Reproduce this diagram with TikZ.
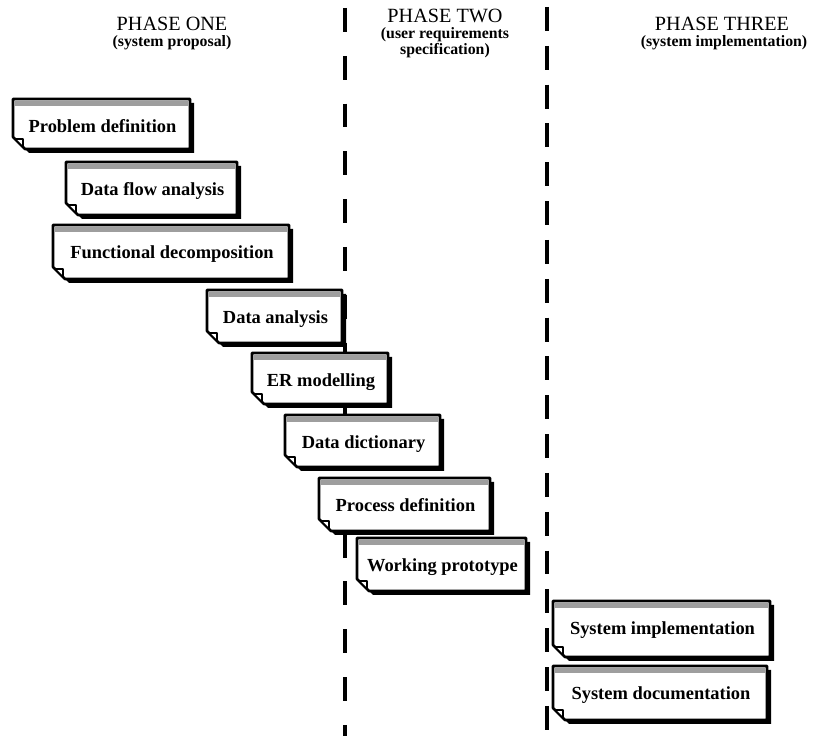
\documentclass[tikz,border=0pt]{standalone}
\usepackage{fontspec}
\setmainfont{Liberation Serif}

\tikzset{
  frame/.style={draw=black, fill=white, line width=1.5pt, line join=round},
  stage/.style={font=\fontsize{10.5}{12}\selectfont\bfseries, inner sep=0pt, anchor=base},
  phase/.style={font=\fontsize{11.5}{13}\selectfont, inner sep=0pt, anchor=base},
  phasesub/.style={font=\fontsize{9}{10}\selectfont\bfseries, inner sep=0pt, anchor=base},
  divider/.style={line width=2.8pt, dash pattern=on 13.6pt off 13.6pt},
}

\begin{document}
\begin{tikzpicture}[x=0.02cm, y=-0.02cm]
      \useasboundingbox (0,0) rectangle (826,736);

      % phase dividers
      \coordinate (onetop) at (345,8);
      \coordinate (onebot) at (345,736);
      \coordinate (twotop) at (547,7);
      \coordinate (twobot) at (547,736);
      \draw[divider] (onetop) -- (onebot);
      \draw[divider, dash pattern=on 13.6pt off 8.5pt] (twotop) -- (twobot);

      % headings
      \node[phase] (phone) at (172,31) {PHASE ONE};
      \node[phasesub] (phonesub) at (172,47) {(system proposal)};
      \node[phase] (phtwo) at (445,23) {PHASE TWO};
      \node[phasesub] (phtwosub) at (445,39) {(user requirements};
      \node[phasesub] (phtwospec) at (445,55) {specification)};
      \node[phase] (phthree) at (722,31) {PHASE THREE};
      \node[phasesub] (phthreesub) at (724,47) {(system implementation)};

      % task boxes
      \foreach \nm/\xa/\ya/\xb/\yb/\txt in {
        probdef/13/99/190/149/Problem definition,
        dataflow/66/162/237/215/Data flow analysis,
        funcdecomp/53/225/289/279/Functional decomposition,
        dataanal/207/290/342/343/Data analysis,
        ermodel/252/353/388/404/ER modelling,
        datadict/285/415/440/467/Data dictionary,
        procdef/319/478/490/531/Process definition,
        workproto/357/538/526/591/Working prototype,
        sysimpl/553/601/770/657/System implementation,
        sysdoc/553/666/767/720/System documentation%
      }{
        \fill (\xa+4,\ya+4) -- (\xb+4,\ya+4) -- (\xb+4,\yb+4) -- (\xa+16,\yb+4) -- (\xa+4,\yb-8) -- cycle;
        \draw[frame] (\xa,\ya) -- (\xb,\ya) -- (\xb,\yb) -- (\xa+12,\yb) -- (\xa,\yb-12) -- cycle;
        \fill[black!38] (\xa+2,\ya+2) rectangle (\xb-2,\ya+7);
        \draw[line width=1pt, fill=white, line join=round] (\xa+2,\yb-10) -- (\xa+10,\yb-10) -- (\xa+10,\yb-2) -- cycle;
        \node[stage] (\nm) at ({(\xa+\xb)/2+1},\ya+34) {\txt};
      }
\end{tikzpicture}
\end{document}
